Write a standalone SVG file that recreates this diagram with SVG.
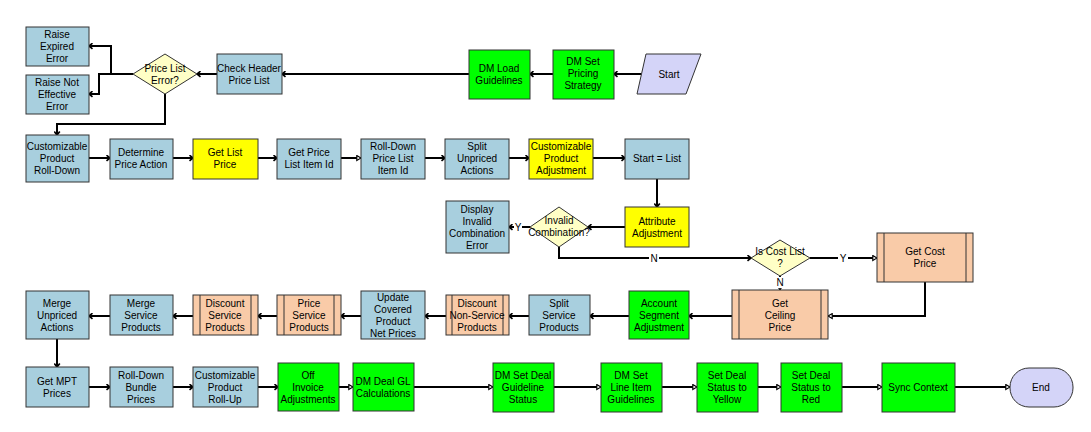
<svg xmlns="http://www.w3.org/2000/svg" width="1091" height="432" viewBox="0 0 1091 432">
<style>
.n rect,.n polygon,.n line{stroke:#333;stroke-width:1}
.b{fill:#A8CFDE}
.y{fill:#FFFF00}
.g{fill:#00FF00}
.p{fill:#F9CBA8}
.d{fill:#FFFFC6}
.s{fill:#D4D4F8}
text{font-family:"Liberation Sans",Arial,sans-serif;font-size:10px;fill:#000;text-anchor:middle}
.c path{fill:none;stroke:#000;stroke-width:2}
.lbl{font-size:10px}
</style>
<defs>
<marker id="ch" viewBox="0 0 10 10" refX="9" refY="5" markerWidth="7" markerHeight="7" orient="auto" markerUnits="userSpaceOnUse">
<polyline points="4,1 9,5 4,9" fill="none" stroke="#000" stroke-width="2.4"/>
</marker>
<marker id="tr" viewBox="0 0 10 10" refX="9" refY="5" markerWidth="6" markerHeight="7" orient="auto" markerUnits="userSpaceOnUse">
<polygon points="2,1 9,5 2,9" fill="#fff" stroke="#000" stroke-width="2"/>
</marker>
</defs>

<g class="c" id="connectors">
<path d="M641,74 H614" marker-end="url(#ch)"/>
<path d="M553,74 H530" marker-end="url(#ch)"/>
<path d="M469,74 H282" marker-end="url(#ch)"/>
<path d="M217,74 H197" marker-end="url(#ch)"/>
<path d="M133,74 H111 V46 H89" marker-end="url(#ch)"/>
<path d="M111,74 H99 V94 H89" marker-end="url(#ch)"/>
<path d="M165,94 V124 H57 V135" marker-end="url(#ch)"/>
<path d="M89,158 H110" marker-end="url(#ch)"/>
<path d="M173,158 H193" marker-end="url(#ch)"/>
<path d="M258,158 H277" marker-end="url(#ch)"/>
<path d="M341,158 H361" marker-end="url(#tr)"/>
<path d="M425,158 H445" marker-end="url(#ch)"/>
<path d="M509,158 H529" marker-end="url(#ch)"/>
<path d="M593,158 H625" marker-end="url(#ch)"/>
<path d="M657,179 V207" marker-end="url(#ch)"/>
<path d="M625,227 H588" marker-end="url(#ch)"/>
<path d="M530,227 H509" marker-end="url(#ch)"/>
<path d="M559,247 V258 H751" marker-end="url(#ch)"/>
<path d="M810,258 H877" marker-end="url(#tr)"/>
<path d="M780,276 V290" marker-end="url(#tr)"/>
<path d="M925,282 V316 H828" marker-end="url(#tr)"/>
<path d="M732,316 H689" marker-end="url(#ch)"/>
<path d="M629,316 H590" marker-end="url(#ch)"/>
<path d="M529,316 H509" marker-end="url(#ch)"/>
<path d="M446,316 H425" marker-end="url(#ch)"/>
<path d="M361,316 H341" marker-end="url(#ch)"/>
<path d="M277,316 H258" marker-end="url(#ch)"/>
<path d="M193,316 H173" marker-end="url(#ch)"/>
<path d="M110,316 H89" marker-end="url(#ch)"/>
<path d="M57,339 V367" marker-end="url(#ch)"/>
<path d="M89,387 H110" marker-end="url(#ch)"/>
<path d="M173,387 H193" marker-end="url(#ch)"/>
<path d="M258,387 H278" marker-end="url(#ch)"/>
<path d="M339,387 H353" marker-end="url(#tr)"/>
<path d="M414,387 H493" marker-end="url(#tr)"/>
<path d="M554,387 H601" marker-end="url(#tr)"/>
<path d="M662,387 H697" marker-end="url(#tr)"/>
<path d="M758,387 H781" marker-end="url(#tr)"/>
<path d="M842,387 H882" marker-end="url(#tr)"/>
<path d="M955,387 H1010" marker-end="url(#tr)"/>
<rect x="514" y="221" width="8" height="12" fill="#fff"/>
<text class="lbl" x="518" y="231">Y</text>
<rect x="649" y="252" width="10" height="12" fill="#fff"/>
<text class="lbl" x="654" y="262">N</text>
<rect x="838" y="252" width="10" height="12" fill="#fff"/>
<text class="lbl" x="843" y="262">Y</text>
<rect x="775" y="277" width="10" height="11" fill="#fff"/>
<text class="lbl" x="780" y="286">N</text>
</g>

<g class="n" id="start"><polygon class="s" points="646,54 701,54 686,94 637,94"/><text x="669" y="78">Start</text></g>
<g class="n" id="dm-set-pricing-strategy"><rect class="g" x="553" y="50" width="61" height="49"/><text x="583" y="65">DM Set<tspan x="583" dy="12">Pricing</tspan><tspan x="583" dy="12">Strategy</tspan></text></g>
<g class="n" id="dm-load-guidelines"><rect class="g" x="469" y="50" width="61" height="49"/><text x="499" y="72">DM Load<tspan x="499" dy="12">Guidelines</tspan></text></g>
<g class="n" id="check-header-price-list"><rect class="b" x="217" y="54" width="65" height="40"/><text x="249" y="72">Check Header<tspan x="249" dy="12">Price List</tspan></text></g>
<g class="n" id="price-list-error"><polygon class="d" points="165,54 197,74 165,94 133,74"/><text x="165" y="72">Price List<tspan x="165" dy="12">Error?</tspan></text></g>
<g class="n" id="raise-expired-error"><rect class="b" x="26" y="27" width="63" height="39"/><text x="57" y="38">Raise<tspan x="57" dy="12">Expired</tspan><tspan x="57" dy="12">Error</tspan></text></g>
<g class="n" id="raise-not-effective-error"><rect class="b" x="26" y="75" width="63" height="39"/><text x="57" y="86">Raise Not<tspan x="57" dy="12">Effective</tspan><tspan x="57" dy="12">Error</tspan></text></g>

<g class="n" id="customizable-product-roll-down"><rect class="b" x="26" y="135" width="63" height="47"/><text x="57" y="150">Customizable<tspan x="57" dy="12">Product</tspan><tspan x="57" dy="12">Roll-Down</tspan></text></g>
<g class="n" id="determine-price-action"><rect class="b" x="110" y="139" width="63" height="40"/><text x="141" y="156">Determine<tspan x="141" dy="12">Price Action</tspan></text></g>
<g class="n" id="get-list-price"><rect class="y" x="193" y="139" width="65" height="40"/><text x="225" y="156">Get List<tspan x="225" dy="12">Price</tspan></text></g>
<g class="n" id="get-price-list-item-id"><rect class="b" x="277" y="139" width="64" height="40"/><text x="309" y="156">Get Price<tspan x="309" dy="12">List Item Id</tspan></text></g>
<g class="n" id="roll-down-price-list-item-id"><rect class="b" x="361" y="139" width="64" height="40"/><text x="393" y="150">Roll-Down<tspan x="393" dy="12">Price List</tspan><tspan x="393" dy="12">Item Id</tspan></text></g>
<g class="n" id="split-unpriced-actions"><rect class="b" x="445" y="139" width="64" height="40"/><text x="477" y="150">Split<tspan x="477" dy="12">Unpriced</tspan><tspan x="477" dy="12">Actions</tspan></text></g>
<g class="n" id="customizable-product-adjustment"><rect class="y" x="529" y="139" width="64" height="40"/><text x="561" y="150">Customizable<tspan x="561" dy="12">Product</tspan><tspan x="561" dy="12">Adjustment</tspan></text></g>
<g class="n" id="start-list"><rect class="b" x="625" y="139" width="64" height="40"/><text x="657" y="162">Start = List</text></g>

<g class="n" id="attribute-adjustment"><rect class="y" x="625" y="207" width="64" height="40"/><text x="657" y="225">Attribute<tspan x="657" dy="12">Adjustment</tspan></text></g>
<g class="n" id="invalid-combination"><polygon class="d" points="559,207 588,227 559,247 530,227"/><text x="559" y="224">Invalid<tspan x="559" dy="12">Combination?</tspan></text></g>
<g class="n" id="display-invalid-combination-error"><rect class="b" x="446" y="201" width="63" height="52"/><text x="477" y="213">Display<tspan x="477" dy="12">Invalid</tspan><tspan x="477" dy="12">Combination</tspan><tspan x="477" dy="12">Error</tspan></text></g>
<g class="n" id="is-cost-list"><polygon class="d" points="780,240 810,258 780,276 751,258"/><text x="780" y="255">Is Cost List<tspan x="780" dy="12">?</tspan></text></g>
<g class="n" id="get-cost-price"><rect class="p" x="877" y="233" width="96" height="49"/><line x1="884" y1="233" x2="884" y2="282"/><line x1="966" y1="233" x2="966" y2="282"/><text x="925" y="255">Get Cost<tspan x="925" dy="12">Price</tspan></text></g>
<g class="n" id="get-ceiling-price"><rect class="p" x="732" y="290" width="96" height="49"/><line x1="739" y1="290" x2="739" y2="339"/><line x1="821" y1="290" x2="821" y2="339"/><text x="780" y="307">Get<tspan x="780" dy="12">Ceiling</tspan><tspan x="780" dy="12">Price</tspan></text></g>

<g class="n" id="account-segment-adjustment"><rect class="g" x="629" y="291" width="60" height="48"/><text x="659" y="307">Account<tspan x="659" dy="12">Segment</tspan><tspan x="659" dy="12">Adjustment</tspan></text></g>
<g class="n" id="split-service-products"><rect class="b" x="529" y="295" width="61" height="40"/><text x="559" y="307">Split<tspan x="559" dy="12">Service</tspan><tspan x="559" dy="12">Products</tspan></text></g>
<g class="n" id="discount-non-service-products"><rect class="p" x="446" y="295" width="63" height="40"/><line x1="452" y1="295" x2="452" y2="335"/><line x1="503" y1="295" x2="503" y2="335"/><text x="477" y="307">Discount<tspan x="477" dy="12">Non-Service</tspan><tspan x="477" dy="12">Products</tspan></text></g>
<g class="n" id="update-covered-product-net-prices"><rect class="b" x="361" y="291" width="64" height="48"/><text x="393" y="301">Update<tspan x="393" dy="12">Covered</tspan><tspan x="393" dy="12">Product</tspan><tspan x="393" dy="12">Net Prices</tspan></text></g>
<g class="n" id="price-service-products"><rect class="p" x="277" y="295" width="64" height="40"/><line x1="284" y1="295" x2="284" y2="335"/><line x1="334" y1="295" x2="334" y2="335"/><text x="309" y="307">Price<tspan x="309" dy="12">Service</tspan><tspan x="309" dy="12">Products</tspan></text></g>
<g class="n" id="discount-service-products"><rect class="p" x="193" y="295" width="65" height="40"/><line x1="200" y1="295" x2="200" y2="335"/><line x1="251" y1="295" x2="251" y2="335"/><text x="225" y="307">Discount<tspan x="225" dy="12">Service</tspan><tspan x="225" dy="12">Products</tspan></text></g>
<g class="n" id="merge-service-products"><rect class="b" x="110" y="295" width="63" height="40"/><text x="141" y="307">Merge<tspan x="141" dy="12">Service</tspan><tspan x="141" dy="12">Products</tspan></text></g>
<g class="n" id="merge-unpriced-actions"><rect class="b" x="26" y="291" width="63" height="48"/><text x="57" y="307">Merge<tspan x="57" dy="12">Unpriced</tspan><tspan x="57" dy="12">Actions</tspan></text></g>

<g class="n" id="get-mpt-prices"><rect class="b" x="26" y="367" width="63" height="40"/><text x="57" y="385">Get MPT<tspan x="57" dy="12">Prices</tspan></text></g>
<g class="n" id="roll-down-bundle-prices"><rect class="b" x="110" y="367" width="63" height="40"/><text x="141" y="379">Roll-Down<tspan x="141" dy="12">Bundle</tspan><tspan x="141" dy="12">Prices</tspan></text></g>
<g class="n" id="customizable-product-roll-up"><rect class="b" x="193" y="367" width="65" height="40"/><text x="225" y="379">Customizable<tspan x="225" dy="12">Product</tspan><tspan x="225" dy="12">Roll-Up</tspan></text></g>
<g class="n" id="off-invoice-adjustments"><rect class="g" x="278" y="363" width="61" height="48"/><text x="308" y="379">Off<tspan x="308" dy="12">Invoice</tspan><tspan x="308" dy="12">Adjustments</tspan></text></g>
<g class="n" id="dm-deal-gl-calculations"><rect class="g" x="353" y="363" width="61" height="48"/><text x="383" y="385">DM Deal GL<tspan x="383" dy="12">Calculations</tspan></text></g>
<g class="n" id="dm-set-deal-guideline-status"><rect class="g" x="493" y="363" width="61" height="49"/><text x="523" y="379">DM Set Deal<tspan x="523" dy="12">Guideline</tspan><tspan x="523" dy="12">Status</tspan></text></g>
<g class="n" id="dm-set-line-item-guidelines"><rect class="g" x="601" y="363" width="61" height="49"/><text x="631" y="379">DM Set<tspan x="631" dy="12">Line Item</tspan><tspan x="631" dy="12">Guidelines</tspan></text></g>
<g class="n" id="set-deal-status-to-yellow"><rect class="g" x="697" y="363" width="61" height="49"/><text x="727" y="379">Set Deal<tspan x="727" dy="12">Status to</tspan><tspan x="727" dy="12">Yellow</tspan></text></g>
<g class="n" id="set-deal-status-to-red"><rect class="g" x="781" y="363" width="61" height="49"/><text x="811" y="379">Set Deal<tspan x="811" dy="12">Status to</tspan><tspan x="811" dy="12">Red</tspan></text></g>
<g class="n" id="sync-context"><rect class="g" x="882" y="363" width="73" height="49"/><text x="918" y="391">Sync Context</text></g>
<g class="n" id="end"><rect class="s" x="1010" y="368" width="63" height="39" rx="19" ry="19"/><text x="1041" y="391">End</text></g>
</svg>
